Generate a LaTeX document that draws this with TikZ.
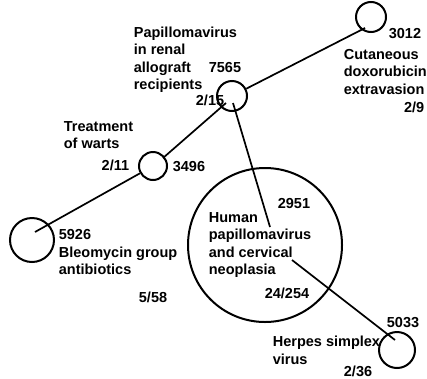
\documentclass[tikz,border=0pt]{standalone}
\usepackage{fontspec}
\setmainfont{Liberation Sans}
\begin{document}
\begin{tikzpicture}[x=1pt, y=-1pt, line width=1.7pt,
  circ/.style={draw, circle, inner sep=0pt, line width=2pt},
  lbl/.style={inner sep=0pt, anchor=base west, align=left, font=\fontsize{14.5}{17.5}\selectfont\bfseries},
  lblr/.style={lbl, anchor=base east}]
  \useasboundingbox (0,0) rectangle (427,378);

  % Círculos
  \node[circ, minimum size=30pt] (c3012) at (371,17) {};
  \node[circ, minimum size=30pt] (c7565) at (232,96) {};
  \node[circ, minimum size=28pt] (c3496) at (153,166) {};
  \node[circ, minimum size=44pt] (c5926) at (32,240) {};
  \node[circ, minimum size=154pt] (c2951) at (265,245) {};
  \node[circ, minimum size=36pt] (c5033) at (397,350) {};

  % Pontas das linhas
  \coordinate (k5926) at (35,232);
  \coordinate (k3496) at (163,158);
  \coordinate (k7565a) at (226,103);
  \coordinate (k7565b) at (233,103);
  \coordinate (k3012) at (365,28);
  \coordinate (k2951a) at (270,227);
  \coordinate (k2951b) at (292,260);
  \coordinate (k5033) at (395,340);

  % Textos (base = última linha)
  \node[lbl] (n3012) at (388,38) {3012};
  \node[lbl] (t3012) at (343,94) {Cutaneous\\doxorubicin\\extravasion};
  \node[lblr] (r3012) at (425,112) {2/9};
  \node[lbl] (t7565) at (133,89.5) {Papillomavirus\\in renal\\allograft\\recipients};
  \node[lbl] (n7565) at (208,72) {7565};
  \node[lblr] (r7565) at (225,105) {2/15};
  \node[lbl] (t3496) at (63,148.5) {Treatment\\of warts};
  \node[lblr] (r3496) at (130,170) {2/11};
  \node[lbl] (n3496) at (172,171) {3496};
  \node[lbl] (n5926) at (58,239) {5926};
  \node[lbl] (t5926) at (58,274.5) {Bleomycin group\\antibiotics};
  \node[lblr] (r5926) at (168,302) {5/58};
  \node[lbl] (n2951) at (277,208) {2951};
  \node[lbl] (t2951) at (208,274.5) {Human\\papillomavirus\\and cervical\\neoplasia};
  \node[lblr] (r2951) at (310,298) {24/254};
  \node[lblr] (n5033) at (420,327) {5033};
  \node[lbl] (t5033) at (272,364) {Herpes simplex\\virus};
  \node[lblr] (r5033) at (373,376) {2/36};

  % Ligações
  \draw (k5926) -- (c3496);
  \draw (k3496) -- (k7565a);
  \draw (k3012) -- (c7565);
  \draw (k7565b) -- (k2951a);
  \draw (k2951b) -- (k5033);
\end{tikzpicture}
\end{document}
